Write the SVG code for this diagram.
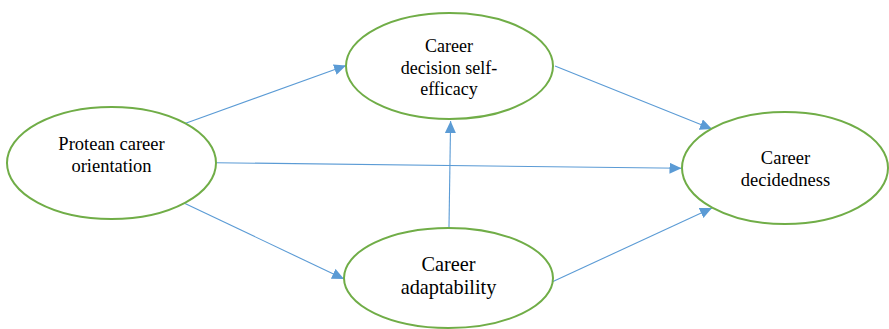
<svg xmlns="http://www.w3.org/2000/svg" width="889" height="329" viewBox="0 0 889 329">
  <style>
    .node ellipse { fill: #ffffff; stroke: #70AD47; stroke-width: 2; }
    .node text { font-family: "Liberation Serif", "Times New Roman", serif; fill: #000000; text-anchor: middle; }
    .edges line { stroke: #5B9BD5; stroke-width: 1.1; marker-end: url(#arrow); }
  </style>
  <defs>
    <marker id="arrow" markerUnits="userSpaceOnUse" markerWidth="12" markerHeight="11" refX="12" refY="5.5" orient="auto">
      <path d="M0,0 L12,5.5 L0,11 Z" fill="#5B9BD5"/>
    </marker>
  </defs>
  <rect width="889" height="329" fill="#ffffff"/>

  <!-- connectors -->
  <g id="edges" class="edges">
    <line x1="185" y1="123.5" x2="346" y2="65.5"/>
    <line x1="216" y1="162.7" x2="681.5" y2="168.3"/>
    <line x1="185" y1="203.5" x2="344" y2="279"/>
    <line x1="449" y1="227" x2="450.6" y2="121"/>
    <line x1="555" y1="66" x2="712" y2="129"/>
    <line x1="553" y1="281.5" x2="712" y2="208"/>
  </g>

  <!-- nodes -->
  <g id="node-protean" class="node">
    <ellipse cx="111.5" cy="163" rx="104.5" ry="56"/>
    <text x="111.5" y="150" font-size="18.5">Protean career</text>
    <text x="111.5" y="171.5" font-size="18.5">orientation</text>
  </g>

  <g id="node-efficacy" class="node">
    <ellipse cx="449.5" cy="66" rx="103.5" ry="53"/>
    <text x="449" y="52" font-size="18">Career</text>
    <text x="449" y="73.5" font-size="18">decision self-</text>
    <text x="449" y="94.5" font-size="18">efficacy</text>
  </g>

  <g id="node-adaptability" class="node">
    <ellipse cx="448.5" cy="278" rx="104.5" ry="50"/>
    <text x="448.5" y="271" font-size="20.3">Career</text>
    <text x="448.5" y="294" font-size="20.3">adaptability</text>
  </g>

  <g id="node-decidedness" class="node">
    <ellipse cx="785" cy="168" rx="103" ry="56"/>
    <text x="785.5" y="164.3" font-size="18.5">Career</text>
    <text x="785.5" y="185.7" font-size="18.5">decidedness</text>
  </g>
</svg>
